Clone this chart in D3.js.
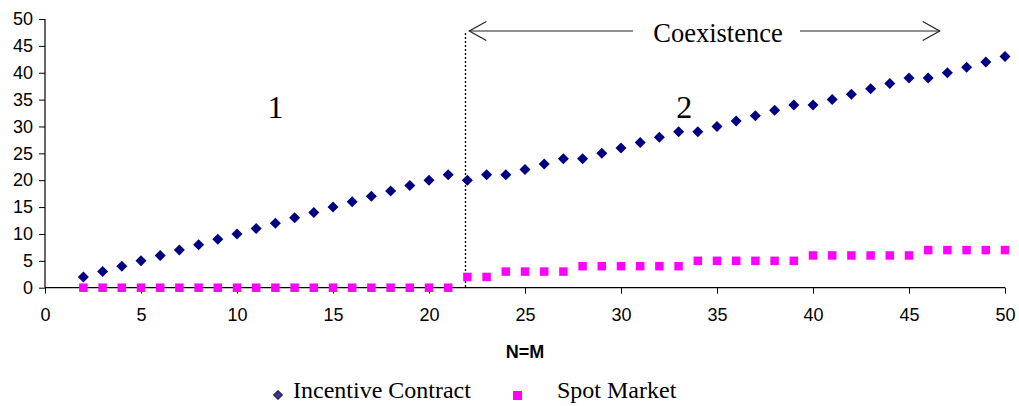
<!DOCTYPE html>
<html>
<head>
<meta charset="utf-8">
<script src="https://cdn.jsdelivr.net/npm/d3@7"></script>
<style>
  html, body { margin: 0; padding: 0; background: #fff; }
  svg { display: block; }
</style>
</head>
<body>
<svg id="chart" width="1019" height="406"></svg>
<script>
// ---- data ----
const nValues = d3.range(2, 51); // N=M from 2 to 50
const incentiveContract = [2,3,4,5,6,7,8,9,10,11,12,13,14,15,16,17,18,19,20,21,
  20,21,21,22,23,24,24,25,26,27,28,29,29,30,31,32,33,34,34,35,36,37,38,39,39,40,41,42,43];
const spotMarket = [0,0,0,0,0,0,0,0,0,0,0,0,0,0,0,0,0,0,0,0,
  2,2,3,3,3,3,4,4,4,4,4,4,5,5,5,5,5,5,6,6,6,6,6,6,7,7,7,7,7];
const xTicks = [0,5,10,15,20,25,30,35,40,45,50];
const yTicks = [0,5,10,15,20,25,30,35,40,45,50];
const regionBoundary = 21.9;
const coexistenceRange = [22.1, 46.6];
const regionLabels = [{text: "1", x: 12}, {text: "2", x: 33.3}];
const seriesNames = ["Incentive Contract", "Spot Market"];

// ---- chart ----
const svg = d3.select("#chart");
const x = d3.scaleLinear().domain([0, 50]).range([45, 1005]);
const y = d3.scaleLinear().domain([0, 50]).range([287.7, 19]);

const serif = "'Liberation Serif', 'Times New Roman', serif";
const sans = "'Liberation Sans', Arial, sans-serif";

// axes
const yAxis = svg.append("g").attr("transform", `translate(${x(0)},0)`)
  .call(d3.axisLeft(y).tickValues(yTicks).tickSize(6).tickPadding(6).tickFormat(d3.format("d")));
const xAxis = svg.append("g").attr("transform", `translate(0,${y(0)})`)
  .call(d3.axisBottom(x).tickValues(xTicks).tickSize(6).tickPadding(15).tickFormat(d3.format("d")));
[yAxis, xAxis].forEach(g => {
  g.select(".domain").attr("stroke", "#000").attr("stroke-width", 1.2);
  g.selectAll(".tick line").attr("stroke", "#000");
  g.selectAll(".tick text").attr("font-family", sans).attr("font-size", 18).attr("fill", "#000");
});
yAxis.select(".domain").attr("d", `M0,${y(50)}V${y(0)}`);
xAxis.select(".domain").attr("d", `M${x(0)},0H${x(50)}`);

// x axis title
svg.append("text").attr("x", x(25)).attr("y", 358)
  .attr("text-anchor", "middle").attr("font-family", sans)
  .attr("font-size", 18).attr("font-weight", "bold").text("N=M");

// boundary dotted line
svg.append("line")
  .attr("x1", x(regionBoundary)).attr("x2", x(regionBoundary))
  .attr("y1", 33).attr("y2", y(0))
  .attr("stroke", "#000").attr("stroke-width", 1.3).attr("stroke-dasharray", "2,2");

// coexistence arrow
const arrowY = 31;
const textCx = 717;
const arrowG = svg.append("g").attr("stroke", "#222").attr("stroke-width", 1.2).attr("fill", "none");
arrowG.append("line").attr("x1", x(coexistenceRange[0])).attr("x2", 633).attr("y1", arrowY).attr("y2", arrowY);
arrowG.append("line").attr("x1", 800).attr("x2", x(coexistenceRange[1])).attr("y1", arrowY).attr("y2", arrowY);
arrowG.append("path").attr("d", `M${x(coexistenceRange[0]) + 17},${arrowY - 9.5}L${x(coexistenceRange[0])},${arrowY}L${x(coexistenceRange[0]) + 17},${arrowY + 9.5}`);
arrowG.append("path").attr("d", `M${x(coexistenceRange[1]) - 17},${arrowY - 9.5}L${x(coexistenceRange[1])},${arrowY}L${x(coexistenceRange[1]) - 17},${arrowY + 9.5}`);
svg.append("text").attr("x", textCx + 1).attr("y", 41.5).attr("text-anchor", "middle")
  .attr("font-family", serif).attr("font-size", 26.5).text("Coexistence");

// region labels
svg.selectAll(".region").data(regionLabels).enter().append("text")
  .attr("x", d => x(d.x)).attr("y", 118).attr("text-anchor", "middle")
  .attr("font-family", serif).attr("font-size", 32).text(d => d.text);

// series: spot market (squares)
const sq = 8.5;
svg.append("g").selectAll("rect").data(nValues.map((n, i) => [n, spotMarket[i]])).enter()
  .append("rect")
  .attr("x", d => x(d[0]) - sq / 2).attr("y", d => y(d[1]) - sq / 2)
  .attr("width", sq).attr("height", sq).attr("fill", "#FF00FF");

// series: incentive contract (diamonds)
const dr = 5.5;
svg.append("g").selectAll("path").data(nValues.map((n, i) => [n, incentiveContract[i]])).enter()
  .append("path")
  .attr("d", d => { const cx = x(d[0]), cy = y(d[1]); return `M${cx},${cy - dr}L${cx + dr},${cy}L${cx},${cy + dr}L${cx - dr},${cy}Z`; })
  .attr("fill", "#000080");

// legend
const leg = svg.append("g");
const ld = 4.5;
leg.append("path").attr("d", `M278,${395 - ld}L${278 + ld},395L278,${395 + ld}L${278 - ld},395Z`)
  .attr("fill", "#333399").attr("stroke", "#000").attr("stroke-width", 1);
leg.append("text").attr("x", 293).attr("y", 398).attr("font-family", serif)
  .attr("font-size", 24).text(seriesNames[0]);
leg.append("rect").attr("x", 513).attr("y", 391).attr("width", 9).attr("height", 9).attr("fill", "#FF00FF");
leg.append("text").attr("x", 557).attr("y", 398).attr("font-family", serif)
  .attr("font-size", 24).text(seriesNames[1]);
</script>
</body>
</html>
